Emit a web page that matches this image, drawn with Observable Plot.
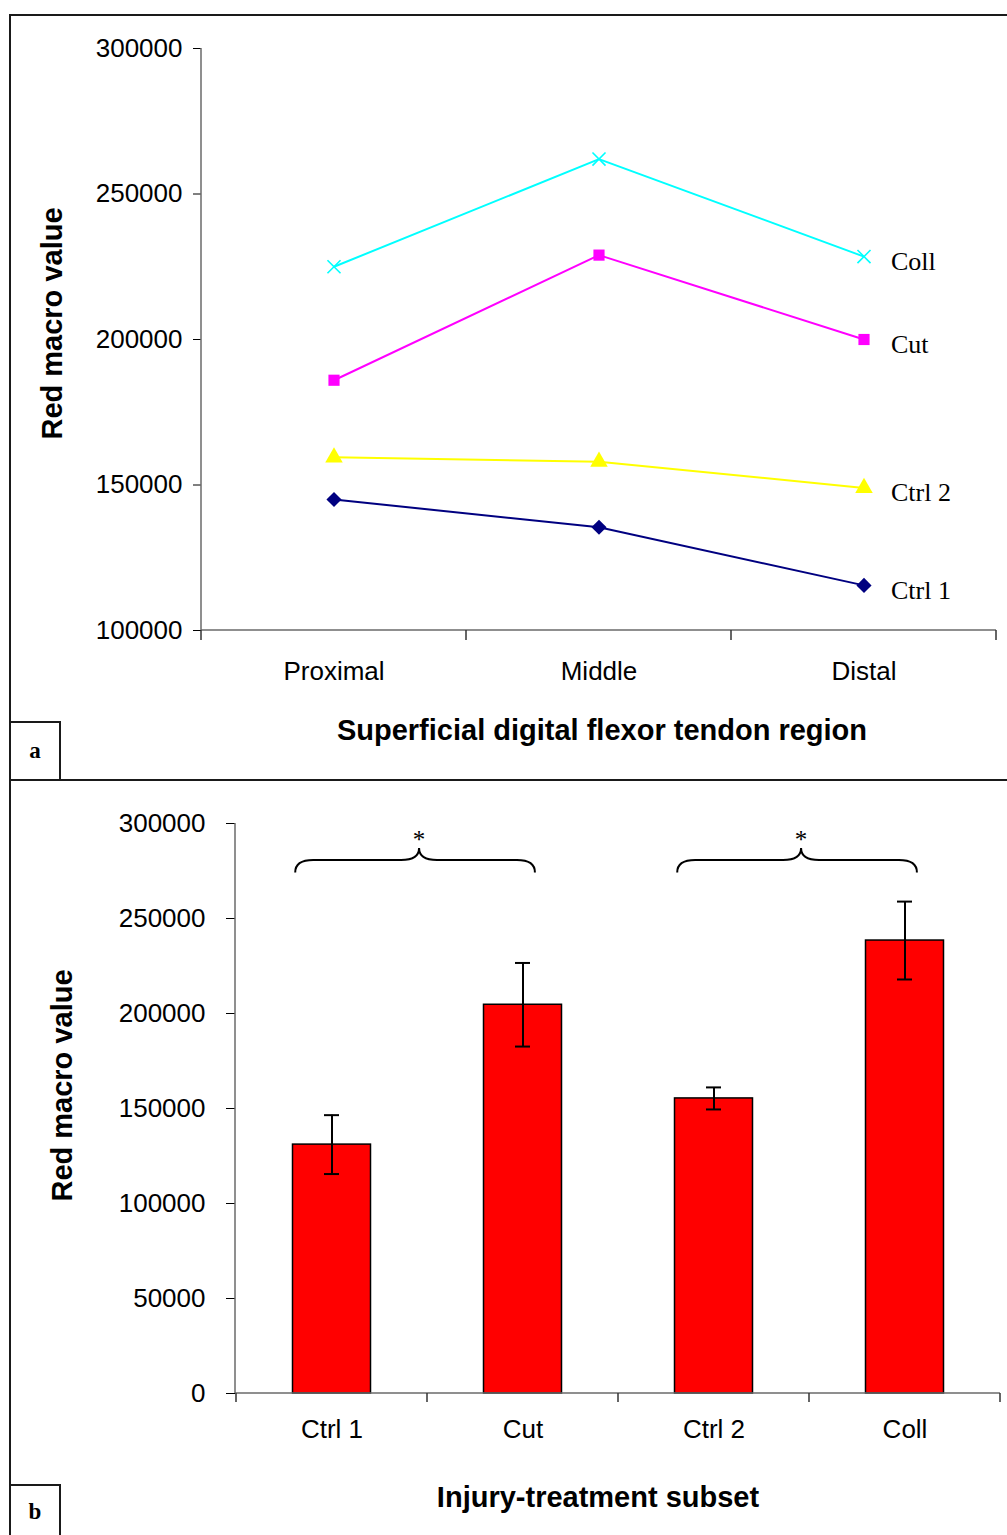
<!DOCTYPE html>
<html><head><meta charset="utf-8">
<script src="https://cdn.jsdelivr.net/npm/d3@7"></script>
<script src="https://cdn.jsdelivr.net/npm/@observablehq/plot@0.6"></script>
<style>
html,body{margin:0;padding:0;background:#fff;}
#page{position:relative;width:1007px;height:1535px;overflow:hidden;background:#fff;}
#page svg{position:absolute;left:0;}
.rule{position:absolute;background:#1a1a1a;z-index:5;}
.tag{position:absolute;box-sizing:border-box;border:2px solid #1a1a1a;background:#fff;z-index:6;
  font-family:"Liberation Serif","Times New Roman",serif;font-weight:bold;font-size:23px;
  display:flex;align-items:center;justify-content:center;}
</style></head>
<body><div id="page"></div>
<script>
// ---------- Panel a data ----------
const regions = ["Proximal", "Middle", "Distal"];
const seriesNames = ["Ctrl 1", "Ctrl 2", "Cut", "Coll"];
const ctrl1Values = [145000, 135500, 115500];
const ctrl2Values = [159500, 158000, 149000];
const cutValues = [186000, 229000, 200000];
const collValues = [225000, 262000, 228500];
const seriesColors = ["#000080", "#FFFF00", "#FF00FF", "#00FFFF"];
const seriesSymbols = ["diamond2", "triangle", "square", "times"];
const yTicksA = [100000, 150000, 200000, 250000, 300000];
const yTitle = "Red macro value";
const xTitleA = "Superficial digital flexor tendon region";

// ---------- Panel b data ----------
const subsets = ["Ctrl 1", "Cut", "Ctrl 2", "Coll"];
const subsetMeans = [131000, 204600, 155300, 238400];
const subsetErrors = [15500, 22000, 5800, 20500];
const yTicksB = [0, 50000, 100000, 150000, 200000, 250000, 300000];
const xTitleB = "Injury-treatment subset";
const significantPairs = [["Ctrl 1", "Cut"], ["Ctrl 2", "Coll"]];
const significanceMark = "*";

const SANS = "'Liberation Sans', Arial, sans-serif";
const SERIF = "'Liberation Serif', 'Times New Roman', serif";

const seriesValues = [ctrl1Values, ctrl2Values, cutValues, collValues];
const lineRows = seriesNames.flatMap((s, i) =>
  regions.map((r, j) => ({series: s, region: r, value: seriesValues[i][j]})));
const barRows = subsets.map((s, i) => ({subset: s, mean: subsetMeans[i], err: subsetErrors[i]}));

// axis lines + category boundary ticks drawn with the plot's own scales
function axisFrame(domain, tickLen) {
  return (index, scales, values, dim) => {
    const {width, height, marginLeft, marginRight, marginTop, marginBottom} = dim;
    const x0 = marginLeft, x1 = width - marginRight, y0 = marginTop, y1 = height - marginBottom;
    const g = d3.create("svg:g").attr("fill", "none").attr("stroke", "#6a6a6a").attr("stroke-width", 1.5);
    g.append("line").attr("x1", x0).attr("x2", x0).attr("y1", y0).attr("y2", y1);
    g.append("line").attr("x1", x0).attr("x2", x1).attr("y1", y1).attr("y2", y1);
    const edges = domain.map(d => scales.x(d)).concat([x1]);
    for (const e of edges) g.append("line").attr("stroke", "#333").attr("x1", e).attr("x2", e).attr("y1", y1).attr("y2", y1 + tickLen);
    return g.node();
  };
}

function braces(pairs) {
  return (index, scales) => {
    const bw = scales.x.bandwidth ? scales.x.bandwidth() : 0;
    const g = d3.create("svg:g");
    const yb = scales.y(274000), yf = scales.y(280500), yt = scales.y(286800);
    for (const [a, b] of pairs) {
      const x0 = scales.x(a) + bw * 0.31, x1 = scales.x(b) + bw * 0.565;
      const xm = (x0 + x1) / 2 + 4, r = 18;
      g.append("path").attr("fill", "none").attr("stroke", "#000").attr("stroke-width", 2)
        .attr("d", `M${x0},${yb} Q${x0},${yf} ${x0 + r},${yf} L${xm - r},${yf} Q${xm},${yf} ${xm},${yt} Q${xm},${yf} ${xm + r},${yf} L${x1 - r},${yf} Q${x1},${yf} ${x1},${yb}`);
      g.append("text").attr("x", xm).attr("y", yt).attr("text-anchor", "middle")
        .attr("font-family", SERIF).attr("font-size", 25).attr("fill", "#000").text(significanceMark);
    }
    return g.node();
  };
}

// ---------- Panel a ----------
const dotMarks = seriesNames.map((s, i) => {
  const rows = lineRows.filter(d => d.series === s);
  const sym = seriesSymbols[i];
  return sym === "times"
    ? Plot.dot(rows, {x: "region", y: "value", symbol: sym, r: 6, stroke: seriesColors[i], strokeWidth: 1.6, fill: "none"})
    : Plot.dot(rows, {x: "region", y: "value", symbol: sym, r: sym === "triangle" ? 6.5 : sym === "square" ? 6.3 : 6.8, fill: seriesColors[i], stroke: "none"});
});

const chartA = Plot.plot({
  width: 1007, height: 780,
  marginLeft: 201, marginRight: 11, marginTop: 48, marginBottom: 150,
  style: {fontFamily: SANS, fontSize: "26px", color: "#000", background: "transparent"},
  x: {type: "band", domain: regions, padding: 0, tickSize: 0, tickPadding: 31, label: null},
  y: {domain: [100000, 300000], ticks: yTicksA, tickSize: 8, tickPadding: 11, tickFormat: "d", label: null},
  color: {domain: seriesNames, range: seriesColors},
  marks: [
    axisFrame(regions, 10),
    Plot.line(lineRows, {x: "region", y: "value", z: "series", stroke: "series", strokeWidth: 2}),
    ...dotMarks,
    Plot.text(lineRows.filter(d => d.region === "Distal"), {x: "region", y: "value", text: "series",
      textAnchor: "start", dx: 27, dy: 5, fontFamily: SERIF, fontSize: 26, fill: "#000"}),
    Plot.text([yTitle], {frameAnchor: "left", textAnchor: "middle", lineAnchor: "middle", rotate: -90, dx: -149, dy: -16, fontWeight: "bold", fontSize: 29, fill: "#000"}),
    Plot.text([xTitleA], {frameAnchor: "bottom", textAnchor: "middle", lineAnchor: "middle", dx: 3, dy: 100, fontWeight: "bold", fontSize: 29, fill: "#000"})
  ]
});
chartA.style.top = "0px";

// ---------- Panel b ----------
const chartB = Plot.plot({
  width: 1007, height: 755,
  marginLeft: 235, marginRight: 7, marginTop: 43, marginBottom: 142,
  style: {fontFamily: SANS, fontSize: "26px", color: "#000", background: "transparent"},
  x: {type: "band", domain: subsets, padding: 0, tickSize: 0, tickPadding: 26, label: null},
  y: {domain: [0, 300000], ticks: yTicksB, tickSize: 9, tickPadding: 21, tickFormat: "d", label: null},
  marks: [
    Plot.barY(barRows, {x: "subset", y: "mean", fill: "#FF0000", stroke: "#000", strokeWidth: 1.5, insetLeft: 56.5, insetRight: 56.5}),
    axisFrame(subsets, 9),
    Plot.ruleX(barRows, {x: "subset", y1: d => d.mean - d.err, y2: d => d.mean + d.err, stroke: "#000", strokeWidth: 2}),
    Plot.tickY(barRows, {x: "subset", y: d => d.mean + d.err, stroke: "#000", strokeWidth: 2, inset: 88}),
    Plot.tickY(barRows, {x: "subset", y: d => d.mean - d.err, stroke: "#000", strokeWidth: 2, inset: 88}),
    braces(significantPairs),
    Plot.text([yTitle], {frameAnchor: "left", textAnchor: "middle", lineAnchor: "middle", rotate: -90, dx: -173, dy: -23, fontWeight: "bold", fontSize: 29, fill: "#000"}),
    Plot.text([xTitleB], {frameAnchor: "bottom", textAnchor: "middle", lineAnchor: "middle", dx: -20, dy: 104, fontWeight: "bold", fontSize: 29, fill: "#000"})
  ]
});
chartB.style.top = "780px";

const page = document.getElementById("page");
page.append(chartA, chartB);

function addRule(l, t, w, h) {
  const d = document.createElement("div");
  d.className = "rule";
  Object.assign(d.style, {left: l + "px", top: t + "px", width: w + "px", height: h + "px"});
  page.append(d);
}
addRule(9, 14, 1000, 2);
addRule(9, 14, 2, 1530);
addRule(9, 779, 1000, 2);

function addTag(txt, l, t, w, h) {
  const d = document.createElement("div");
  d.className = "tag";
  d.textContent = txt;
  Object.assign(d.style, {left: l + "px", top: t + "px", width: w + "px", height: h + "px"});
  page.append(d);
}
addTag("a", 9, 721, 52, 60);
addTag("b", 9, 1484, 52, 56);
</script>
</body></html>
